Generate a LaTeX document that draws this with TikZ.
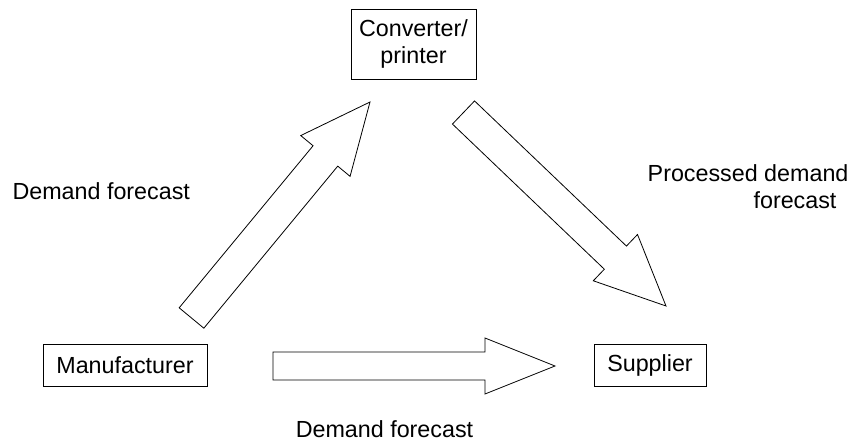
\documentclass[tikz,border=0pt]{standalone}
\usepackage{fontspec}
\setmainfont{Liberation Sans}
\usetikzlibrary{calc}
\tikzset{
	party/.style={draw, line width=0.8pt, inner sep=0pt, align=center},
	fatarrow/.style={draw, line width=0.8pt, fill=white, line join=miter},
	every node/.style={font=\fontsize{23.3}{27}\selectfont}
}
% block arrow from tail #2 to tip #3, #1 = half the shaft width
\newcommand\fatarrow[3][16pt]{
	\coordinate (hb) at ($(#3)!70pt!(#2)$);
	\draw[fatarrow] ($(#2)!#1!90:(#3)$) -- ($(hb)!#1!-90:(#2)$) -- ($(hb)!2*#1!-90:(#2)$)
		-- (#3) -- ($(hb)!2*#1!90:(#2)$) -- ($(hb)!#1!90:(#2)$) -- ($(#2)!#1!-90:(#3)$) -- cycle;
}

\begin{document}
\begin{tikzpicture}[x=1pt, y=1pt]
			%%%%% START %%%%%
			\useasboundingbox (0, 0) rectangle (855, 445);
			
			\node[party, minimum width=125, minimum height=70] (conv) at (413.5, 401) {Converter/\\printer};
			\node[party, minimum width=164, minimum height=42] (manu) at (125, 80) {Manufacturer};
			\node[party, minimum width=112, minimum height=42] (supp) at (650, 80) {Supplier};
			
			\coordinate (manuOut) at (273, 79);
			\coordinate (suppIn) at (555, 79);
			\coordinate (convIn) at (370, 343);
			\coordinate (manuUp) at (191.5, 127);
			\coordinate (convOut) at (463.5, 332.5);
			\coordinate (suppTop) at (666, 139);
			
			\fatarrow{manuUp}{convIn}
			\fatarrow{convOut}{suppTop}
			\fatarrow[14pt]{manuOut}{suppIn}
			
			\node[anchor=west] (lblUp) at (9, 253.5) {Demand forecast};
			\node[anchor=east, align=right] (lblDown) at (852, 258) {Processed demand\\forecast\hspace*{12pt}};
			\node (lblBottom) at (384.5, 16) {Demand forecast};
			%%%%% END %%%%%
\end{tikzpicture}
\end{document}
